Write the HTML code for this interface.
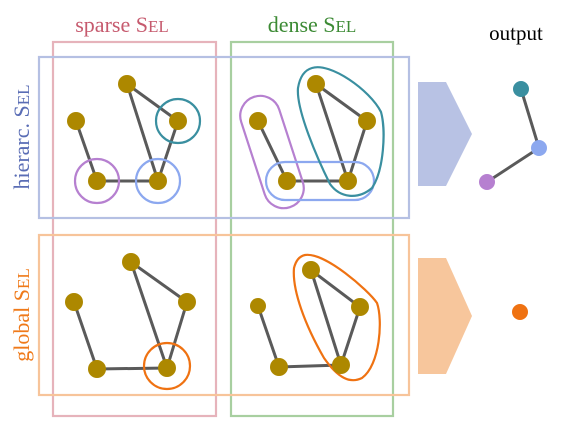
<!DOCTYPE html>
<html><head><meta charset="utf-8"><style>body{margin:0;background:#fff}svg{display:block}text{font-family:"Liberation Serif",serif}</style></head>
<body>
<svg width="577" height="432" viewBox="0 0 577 432">
<g fill="none" stroke-width="2.2">
<rect x="53" y="42" width="163" height="374" stroke="#e6b3bb"/>
<rect x="231" y="42" width="162" height="374" stroke="#a8cfa0"/>
<rect x="39" y="57" width="370" height="161" stroke="#b5c0e3"/>
<rect x="39" y="235" width="370" height="160" stroke="#f7c49a"/>
</g>
<text x="122" y="32" font-size="22" fill="#c65a6e" text-anchor="middle">sparse S<tspan font-size="17">EL</tspan></text>
<text x="312" y="32" font-size="22" fill="#3c8a34" text-anchor="middle">dense S<tspan font-size="17">EL</tspan></text>
<text x="516" y="40" font-size="21" fill="#000" text-anchor="middle">output</text>
<text transform="translate(29,137) rotate(-90)" font-size="22" fill="#5a6db5" text-anchor="middle">hierarc. S<tspan font-size="17">EL</tspan></text>
<text transform="translate(29,315) rotate(-90)" font-size="22" fill="#ef7a1a" text-anchor="middle">global S<tspan font-size="17">EL</tspan></text>

<g stroke="#5a5a5a" stroke-width="3" fill="none">
<path d="M76 121L97 181L158 181L178 121L127 84L158 181"/>
<path d="M258 121L287 181L348 181L367 121L316 84L348 181"/>
<path d="M74 302L97 369L167 368L187 302L131 262L167 368"/>
<path d="M258 306L279 367L341 365L360 307L311 270L341 365"/>
<path d="M521 89L539 148L487 182"/>
</g>
<g fill="none" stroke-width="2.2">
<circle cx="178" cy="121" r="22" stroke="#3a8fa0"/>
<circle cx="97" cy="181" r="22" stroke="#b680d0"/>
<circle cx="158" cy="181" r="22" stroke="#8ca8ef"/>
<rect x="252" y="94" width="40" height="116" rx="20" transform="rotate(-18 272 152)" stroke="#b680d0"/>
<rect x="266" y="162" width="108" height="38" rx="19" stroke="#8ca8ef"/>
<path d="M312 68C330 62 370 90 381 112C386 130 384 170 372 188C358 200 340 198 330 184C318 160 296 110 298 88C300 76 305 70 312 68Z" stroke="#3a8fa0"/>
<circle cx="167" cy="366" r="23" stroke="#ef7212"/>
<path d="M305 255C325 252 368 290 377 303C383 320 380 365 362 378C350 384 338 378 324 358C305 325 292 290 294 268C296 260 300 256 305 255Z" stroke="#ef7212"/>
</g>
<g fill="#ad8800">
<circle cx="76" cy="121" r="9"/><circle cx="127" cy="84" r="9"/><circle cx="178" cy="121" r="9"/><circle cx="97" cy="181" r="9"/><circle cx="158" cy="181" r="9"/>
<circle cx="258" cy="121" r="9"/><circle cx="316" cy="84" r="9"/><circle cx="367" cy="121" r="9"/><circle cx="287" cy="181" r="9"/><circle cx="348" cy="181" r="9"/>
<circle cx="74" cy="302" r="9"/><circle cx="131" cy="262" r="9"/><circle cx="187" cy="302" r="9"/><circle cx="97" cy="369" r="9"/><circle cx="167" cy="368" r="9"/>
<circle cx="258" cy="306" r="8"/><circle cx="311" cy="270" r="9"/><circle cx="360" cy="307" r="9"/><circle cx="279" cy="367" r="9"/><circle cx="341" cy="365" r="9"/>
</g>
<polygon points="418,82 446,82 472,134 446,186 418,186" fill="#b8c2e4"/>
<polygon points="418,258 446,258 472,316 446,374 418,374" fill="#f7c69c"/>
<circle cx="521" cy="89" r="8" fill="#3a8fa0"/>
<circle cx="539" cy="148" r="8" fill="#8ca8ef"/>
<circle cx="487" cy="182" r="8" fill="#b680d0"/>
<circle cx="520" cy="312" r="8" fill="#ef7212"/>
</svg>
</body></html>
